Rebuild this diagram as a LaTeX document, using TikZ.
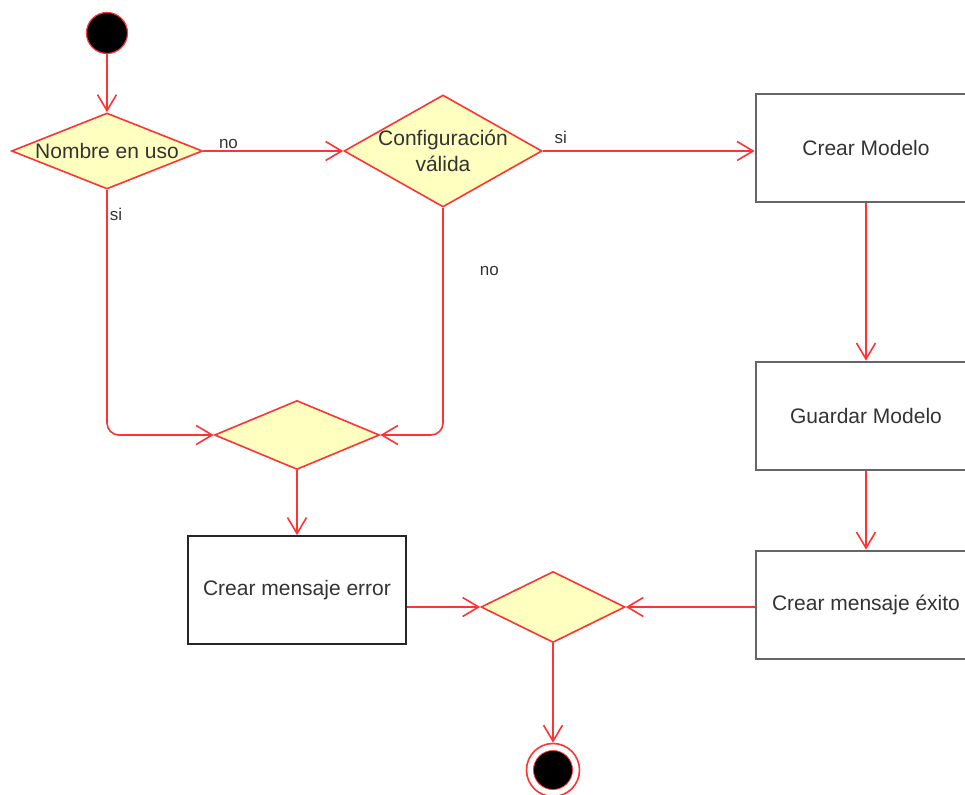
\documentclass[tikz,border=0pt]{standalone}
\usepackage{fontspec}
\setmainfont{Liberation Sans}
\usetikzlibrary{shapes.geometric,arrows.meta}

\definecolor{umlred}{HTML}{FF3333}
\definecolor{umlfill}{HTML}{FFFFC0}
\definecolor{umltext}{HTML}{333333}

\tikzset{
  flow/.style={draw=umlred, line width=1.6pt,
    -{Straight Barb[length=16pt,width=19pt,line width=1.6pt]}},
  choice/.style={diamond, draw=umlred, fill=umlfill, line width=1.6pt, inner sep=0pt},
  action/.style={rectangle, draw=black!60, line width=2.8pt,
    minimum width=220pt, minimum height=108pt},
  lbl/.style={font=\fontsize{17}{20}\selectfont, text=umltext, inner sep=2pt},
}

\begin{document}
\begin{tikzpicture}[x=1pt,y=-1pt, font=\fontsize{21}{26}\selectfont, text=umltext]
        \useasboundingbox (0,0) rectangle (965,794);
        \clip (0,0) rectangle (965,794);
        % initial and final states
        \node[circle, draw=umlred, fill=black, line width=1.2pt, minimum size=41pt, inner sep=0pt] (ini) at (107,33) {};
        \node[circle, draw=umlred, fill=white, line width=1.6pt, minimum size=53pt, inner sep=0pt] (final) at (553,770) {};
        \node[circle, draw=umlred, fill=black, line width=0.8pt, minimum size=39pt, inner sep=0pt] at (final) {};
        % decisions
        \node[choice, minimum width=191pt, minimum height=76pt, label=center:{Nombre en uso}] (uso) at (107,151) {};
        \node[choice, minimum width=198pt, minimum height=112pt,
              label={[align=center]center:{Configuración\\válida}}] (conf) at (443,151) {};
        \node[choice, minimum width=165pt, minimum height=69pt] (unir) at (297,435) {};
        \node[choice, minimum width=144pt, minimum height=71pt] (fin) at (553,607) {};
        % actions
        \node[action] (modelo) at (866,148) {Crear Modelo};
        \node[action] (guardar) at (866,416) {Guardar Modelo};
        \node[action] (exito) at (866,605) {Crear mensaje éxito};
        \node[action, draw=black!85, line width=1.8pt, minimum width=218pt] (error) at (297,590) {Crear mensaje error};
        % transitions
        \draw[flow] (ini) -- (uso);
        \draw[flow] (uso) -- node[lbl, above, pos=0.18] {no} (conf);
        \draw[flow, rounded corners=12pt] (uso) |- node[lbl, right, pos=0.05] {si} (unir);
        \draw[flow, rounded corners=12pt] (conf) |- node[lbl, right=34pt, pos=0.14] {no} (unir);
        \draw[flow] (conf.east) -- node[lbl, above=5pt, pos=0.085] {si} (conf.east -| modelo.west);
        \draw[flow] (modelo) -- (guardar);
        \draw[flow] (guardar) -- (exito);
        \draw[flow] (unir) -- (error);
        \draw[flow] (error.east |- fin) -- (fin);
        \draw[flow] (exito.west |- fin) -- (fin);
        \draw[flow] (fin) -- (final);
\end{tikzpicture}
\end{document}
